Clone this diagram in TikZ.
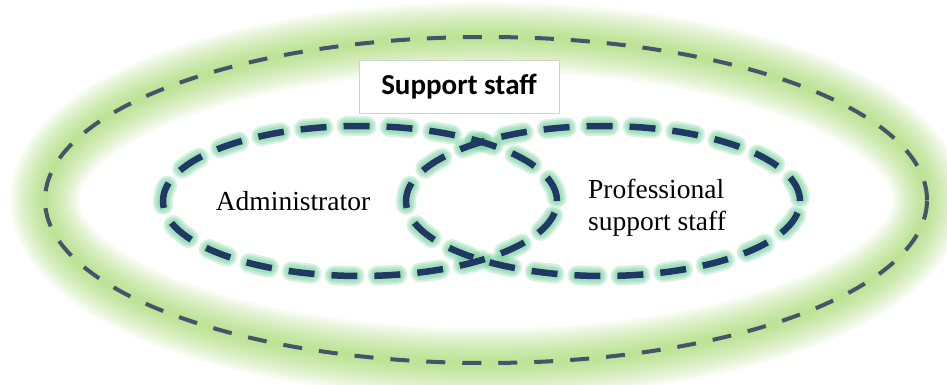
\documentclass[tikz,border=0pt]{standalone}
\usepackage{fontspec}
\setmainfont{Liberation Serif}
\newfontfamily\calibri{Carlito}
\usepackage{tikz}
\usepackage{xcolor}
\definecolor{staffGlow}{RGB}{146,208,80}
\definecolor{staffGrey}{RGB}{68,84,106}
\definecolor{roleNavy}{RGB}{31,56,100}
\definecolor{roleMint}{RGB}{110,205,150}
\definecolor{boxLine}{RGB}{205,215,200}

\begin{document}
\begin{tikzpicture}[
    x=1pt, y=-1pt,
    outerline/.style={draw=staffGrey, line width=4pt, dash pattern=on 19pt off 17pt},
    roleline/.style={draw=roleNavy, line width=6.5pt, dash pattern=on 26pt off 17pt},
    roleglow/.style={draw=roleMint, line width=#1, line cap=round, opacity=0.28, dash pattern=on 20pt off 23pt, dash phase=40pt},
    titlebox/.style={rectangle, draw=boxLine, line width=0.8pt, fill=white, minimum width=200pt, minimum height=53pt, inner sep=0pt, font=\calibri\bfseries\fontsize{29pt}{34pt}\selectfont},
    rolelabel/.style={inner sep=0pt, font=\fontsize{27.5pt}{32pt}\selectfont}
]
\useasboundingbox (0,0) rectangle (947,385);

% Outer ellipse with glow
\foreach \w in {6,10,...,70}
  \draw[staffGlow, line width=\w pt, opacity=0.05] (486,200) ellipse [x radius=441pt, y radius=163pt];
\draw[outerline] (486,200) ellipse [x radius=441pt, y radius=163pt];

% Inner ellipses
\foreach \cx in {360,603}
  \foreach \w in {20pt,16pt,12pt}
    \draw[roleglow=\w] (\cx,201) ellipse [x radius=197pt, y radius=75pt];
\foreach \cx in {360,603}
  \draw[roleline] (\cx,201) ellipse [x radius=197pt, y radius=75pt];

% Labels
\node[titlebox] (title) at (459,86.5) {Support staff};
\node[rolelabel, anchor=base] (admin) at (293,210) {Administrator};
\node[rolelabel, align=left, anchor=west] (prof) at (588,208) {Professional\\support staff};

\end{tikzpicture}
\end{document}
